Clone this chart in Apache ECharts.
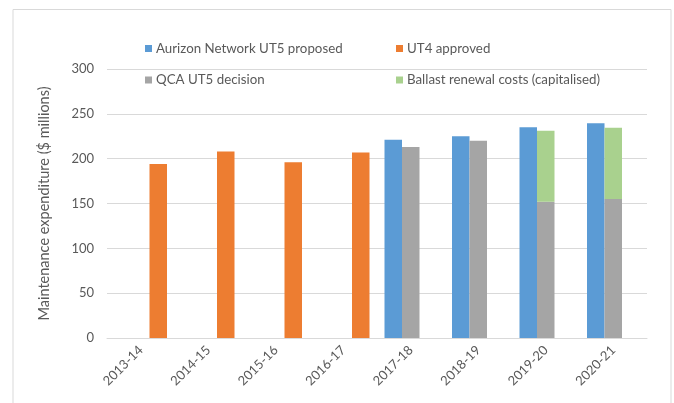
<!DOCTYPE html>
<html>
<head>
<meta charset="utf-8">
<script src="https://cdn.jsdelivr.net/npm/echarts@6/dist/echarts.min.js"></script>
<style>html,body{margin:0;padding:0;background:#fff;}#c{width:674px;height:403px;}</style>
</head>
<body>
<div id="c"></div>
<script>
const categories = ['2013-14','2014-15','2015-16','2016-17','2017-18','2018-19','2019-20','2020-21'];
const aurizonUT5 = [null, null, null, null, 221, 225, 235, 239.5];
const ut4Approved = [194, 208, 196, 207, null, null, null, null];
const qcaUT5 = [null, null, null, null, 213, 220, 152, 155];
const ballast = [null, null, null, null, null, null, 79, 79.5];
const yTicks = {min: 0, max: 300, interval: 50};

const FONT = 'Lato';
const TXT = '#595959';
const chart = echarts.init(document.getElementById('c'), null, {renderer: 'canvas'});
function leg(name, left, top) {
  return {data: [name], left: left, top: top, padding: 0, itemWidth: 7, itemHeight: 7, itemGap: 0,
    icon: 'rect', selectedMode: false, textStyle: {fontFamily: FONT, fontSize: 13.3, color: TXT, padding: [0,0,0,-1]}};
}
chart.setOption({
  backgroundColor: '#fff',
  animation: false,
  graphic: [{type: 'rect', shape: {x: 13, y: 9.5, width: 658, height: 420}, style: {fill: 'none', stroke: '#d9d9d9', lineWidth: 1}, silent: true}],
  legend: [
    leg('Aurizon Network UT5 proposed', 145, 42),
    leg('UT4 approved', 396, 42),
    leg('QCA UT5 decision', 145, 73.5),
    leg('Ballast renewal costs (capitalised)', 396, 73.5)
  ],
  grid: {left: 107, right: 27, top: 69, bottom: 65},
  xAxis: {
    type: 'category', data: categories,
    axisLine: {lineStyle: {color: '#d9d9d9'}}, axisTick: {show: false},
    axisLabel: {rotate: 45, fontFamily: FONT, fontSize: 13, color: TXT, margin: 10}
  },
  yAxis: {
    type: 'value', min: yTicks.min, max: yTicks.max, interval: yTicks.interval,
    name: 'Maintenance expenditure ($ millions)', nameLocation: 'middle', nameGap: 55,
    nameTextStyle: {fontFamily: FONT, fontSize: 14.5, color: TXT},
    axisLine: {show: false}, axisTick: {show: false},
    splitLine: {lineStyle: {color: '#d9d9d9'}},
    axisLabel: {fontFamily: FONT, fontSize: 13, color: TXT, margin: 13}
  },
  series: [
    {name: 'Aurizon Network UT5 proposed', type: 'bar', data: aurizonUT5, barWidth: 17.5, barGap: '0%', itemStyle: {color: '#5B9BD5'}},
    {name: 'QCA UT5 decision', type: 'bar', stack: 'q', data: qcaUT5, barWidth: 17.5, barGap: '0%', itemStyle: {color: '#A5A5A5'}},
    {name: 'Ballast renewal costs (capitalised)', type: 'bar', stack: 'q', data: ballast, barWidth: 17.5, barGap: '0%', itemStyle: {color: '#A9D18E'}},
    {name: 'UT4 approved', type: 'bar', data: ut4Approved, barWidth: 17.5, barGap: '0%', itemStyle: {color: '#ED7D31'}}
  ]
});
</script>
</body>
</html>
